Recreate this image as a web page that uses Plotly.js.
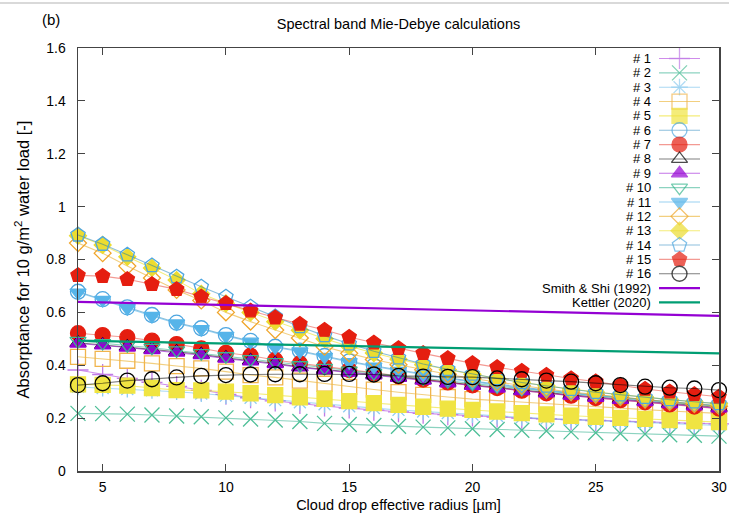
<!DOCTYPE html>
<html>
<head>
<meta charset="utf-8">
<script src="https://cdn.plot.ly/plotly-3.0.1.min.js"></script>
<style>html,body{margin:0;padding:0;background:#fff}#chart{width:729px;height:517px}</style>
</head>
<body>
<div id="chart"></div>
<script>
// Cloud drop effective radius [µm]
const radius = [4,5,6,7,8,9,10,11,12,13,14,15,16,17,18,19,20,21,22,23,24,25,26,27,28,29,30];

// Absorptance for each spectral band (# 1 ... # 16)
const band1  = [0.382,0.365,0.350,0.335,0.320,0.305,0.290,0.277,0.265,0.255,0.246,0.238,0.230,0.224,0.218,0.213,0.208,0.204,0.200,0.197,0.194,0.191,0.188,0.185,0.182,0.180,0.178];
const band2  = [0.218,0.217,0.215,0.212,0.208,0.205,0.201,0.197,0.193,0.187,0.180,0.176,0.172,0.169,0.166,0.163,0.160,0.157,0.154,0.151,0.148,0.145,0.142,0.140,0.137,0.135,0.132];
const band3  = [0.318,0.314,0.310,0.305,0.300,0.293,0.285,0.277,0.268,0.260,0.252,0.245,0.238,0.231,0.225,0.219,0.213,0.208,0.203,0.198,0.194,0.190,0.186,0.182,0.178,0.175,0.172];
const band4  = [0.432,0.424,0.417,0.407,0.397,0.388,0.376,0.363,0.354,0.342,0.330,0.318,0.308,0.298,0.288,0.280,0.272,0.266,0.260,0.254,0.248,0.242,0.237,0.232,0.227,0.222,0.218];
const band5  = [0.328,0.326,0.323,0.314,0.306,0.305,0.300,0.294,0.287,0.279,0.273,0.264,0.257,0.250,0.243,0.236,0.231,0.225,0.219,0.214,0.209,0.205,0.201,0.197,0.193,0.189,0.185];
const band6  = [0.678,0.650,0.619,0.590,0.561,0.540,0.514,0.492,0.470,0.455,0.435,0.415,0.398,0.382,0.367,0.352,0.340,0.328,0.317,0.306,0.296,0.287,0.278,0.270,0.262,0.255,0.248];
const band7  = [0.521,0.514,0.506,0.493,0.480,0.464,0.447,0.436,0.420,0.407,0.395,0.382,0.370,0.358,0.346,0.335,0.324,0.314,0.304,0.294,0.285,0.276,0.268,0.260,0.252,0.244,0.236];
const band8  = [0.485,0.477,0.470,0.460,0.451,0.441,0.428,0.418,0.407,0.394,0.385,0.375,0.365,0.355,0.345,0.335,0.325,0.315,0.305,0.297,0.288,0.280,0.272,0.264,0.256,0.248,0.240];
const band9  = [0.482,0.475,0.467,0.457,0.448,0.438,0.425,0.415,0.404,0.392,0.382,0.372,0.362,0.352,0.342,0.332,0.322,0.312,0.302,0.294,0.285,0.277,0.269,0.261,0.253,0.245,0.237];
const band10 = [0.492,0.484,0.476,0.466,0.456,0.446,0.434,0.423,0.412,0.400,0.390,0.380,0.370,0.360,0.350,0.340,0.330,0.320,0.310,0.302,0.293,0.285,0.277,0.269,0.261,0.253,0.245];
const band11 = [0.675,0.647,0.616,0.587,0.558,0.537,0.511,0.489,0.467,0.452,0.432,0.412,0.395,0.379,0.364,0.349,0.337,0.325,0.314,0.303,0.293,0.284,0.275,0.267,0.259,0.252,0.245];
const band12 = [0.862,0.824,0.775,0.730,0.685,0.645,0.600,0.565,0.533,0.503,0.470,0.445,0.422,0.402,0.383,0.366,0.350,0.336,0.322,0.310,0.299,0.289,0.279,0.270,0.261,0.253,0.245];
const band13 = [0.890,0.855,0.810,0.768,0.722,0.670,0.634,0.600,0.565,0.532,0.500,0.472,0.446,0.423,0.402,0.383,0.366,0.350,0.336,0.322,0.310,0.299,0.289,0.279,0.270,0.262,0.254];
const band14 = [0.893,0.858,0.818,0.777,0.735,0.697,0.659,0.621,0.584,0.546,0.512,0.481,0.453,0.428,0.405,0.385,0.367,0.350,0.335,0.321,0.309,0.298,0.288,0.279,0.270,0.262,0.255];
const band15 = [0.740,0.737,0.725,0.706,0.687,0.659,0.634,0.606,0.580,0.556,0.533,0.507,0.485,0.464,0.445,0.426,0.407,0.392,0.378,0.363,0.350,0.338,0.325,0.310,0.300,0.290,0.281];
const band16 = [0.325,0.332,0.342,0.347,0.354,0.360,0.363,0.365,0.366,0.366,0.367,0.367,0.365,0.360,0.357,0.356,0.355,0.350,0.347,0.342,0.338,0.332,0.325,0.319,0.315,0.312,0.306];

// Reference parameterisations (straight lines)
const refRadius = [4, 30];
const smithShi  = [0.640, 0.587];
const kettler   = [0.493, 0.445];

const bandNames = ['# 1','# 2','# 3','# 4','# 5','# 6','# 7','# 8','# 9','# 10','# 11','# 12','# 13','# 14','# 15','# 16'];
const refNames  = ['Smith & Shi (1992)', 'Kettler (2020)'];

const bands = [band1,band2,band3,band4,band5,band6,band7,band8,band9,band10,band11,band12,band13,band14,band15,band16];

// styles
const markerColor = ['#c07be6','#4fbf98','#8fcdf0','#f0b44c','#f0e442','#4ea6e0','#e51e10','#000000','#9400d3','#3bb68f','#56b4e9','#f0a52a','#ecdc30','#4ea6e0','#e51e10','#000000'];
const lineColor   = ['rgba(148,0,211,0.45)','rgba(0,158,115,0.45)','rgba(86,180,233,0.5)','rgba(230,159,0,0.5)','rgba(240,228,66,0.7)','rgba(0,114,178,0.45)','rgba(229,30,16,0.45)','rgba(0,0,0,0.5)','rgba(148,0,211,0.55)','rgba(0,158,115,0.45)','rgba(86,180,233,0.6)','rgba(230,159,0,0.5)','rgba(240,228,66,0.7)','rgba(0,114,178,0.45)','rgba(229,30,16,0.45)','rgba(0,0,0,0.5)'];
const symbols = ['cross-thin','x-thin','asterisk','square-open','square','circle-open','circle','triangle-up-open','triangle-up','triangle-down-open','triangle-down','diamond-open','diamond','pentagon-open','pentagon','circle-open'];
const sizes   = [15,15,14,15,15,15,15,14,14,14,14,13,13,15,15,15];
const refColor = ['#9400d3','#009e73'];

const traces = [];
bands.forEach((vals, i) => {
  traces.push({
    x: radius, y: vals, name: bandNames[i], type: 'scatter', mode: 'lines+markers',
    cliponaxis: false, showlegend: false,
    line: {color: lineColor[i], width: 1.1},
    marker: {symbol: symbols[i], size: sizes[i], color: markerColor[i],
             line: {color: markerColor[i], width: 1.3}}
  });
});
[smithShi, kettler].forEach((vals, i) => {
  traces.push({x: refRadius, y: vals, name: refNames[i], type: 'scatter', mode: 'lines',
    showlegend: false, line: {color: refColor[i], width: 2.2}});
});

// key (gnuplot style: text right-aligned, sample to the right) in pixel space on overlay axes
const PLOT_L = 78, PLOT_R = 719, PLOT_T = 48, PLOT_B = 471;
const KEY_TOP = 58.5, KEY_STEP = 14.35, KEY_TEXT_X = 652, KEY_L0 = 659, KEY_L1 = 700;
const annotations = [];
const keyNames = bandNames.concat(refNames);
keyNames.forEach((nm, i) => {
  const yy = KEY_TOP + i * KEY_STEP;
  const isBand = i < bands.length;
  annotations.push({xref: 'x2', yref: 'y2', x: KEY_TEXT_X, y: yy, text: nm, showarrow: false,
    xanchor: 'right', yanchor: 'middle', borderpad: 0,
    font: {family: 'Liberation Sans, Arial, sans-serif', size: 13, color: '#000'}});
  const xm = (KEY_L0 + KEY_L1) / 2;
  const tr = {
    x: [KEY_L0, xm, KEY_L1], y: [yy, yy, yy], xaxis: 'x2', yaxis: 'y2', type: 'scatter',
    mode: isBand ? 'lines+markers' : 'lines', showlegend: false, hoverinfo: 'skip', cliponaxis: false,
    line: {color: isBand ? lineColor[i] : refColor[i - bands.length], width: isBand ? 1.1 : 2.2}
  };
  if (isBand) {
    tr.marker = {symbol: symbols[i], size: [0, sizes[i], 0], color: markerColor[i],
                 line: {color: markerColor[i], width: 1.3}};
  }
  traces.push(tr);
});

annotations.push({xref: 'paper', yref: 'paper', x: (51 - PLOT_L) / (PLOT_R - PLOT_L), y: 1 + (PLOT_T - 20) / (PLOT_B - PLOT_T),
  text: '(b)', showarrow: false, xanchor: 'center', yanchor: 'middle',
  font: {family: 'Liberation Sans, Arial, sans-serif', size: 15, color: '#000'}});

const axisFont = {family: 'Liberation Sans, Arial, sans-serif', size: 14, color: '#000'};
const layout = {
  width: 729, height: 517,
  margin: {l: PLOT_L, r: 729 - PLOT_R, t: PLOT_T, b: 517 - PLOT_B, pad: 0},
  paper_bgcolor: '#fff', plot_bgcolor: '#fff',
  showlegend: false,
  title: {text: 'Spectral band Mie-Debye calculations', x: 0.5, xref: 'paper', xanchor: 'center',
          y: 1 - 24 / 517, yanchor: 'middle', font: {family: 'Liberation Sans, Arial, sans-serif', size: 14.5, color: '#000'}},
  xaxis: {range: [4, 30], tickvals: [5,10,15,20,25,30], ticks: 'inside', ticklen: 7, tickwidth: 1, tickcolor: '#444',
          showline: true, linecolor: '#444', linewidth: 1.5, mirror: 'ticks', showgrid: false, zeroline: false,
          tickfont: axisFont, ticklabelstandoff: 3,
          title: {text: 'Cloud drop effective radius [µm]', font: {family: 'Liberation Sans, Arial, sans-serif', size: 14.5, color: '#000'}, standoff: 5}},
  yaxis: {range: [0, 1.6], dtick: 0.2, tick0: 0, ticks: 'inside', ticklen: 7, tickwidth: 1, tickcolor: '#444',
          showline: true, linecolor: '#444', linewidth: 1.5, mirror: 'ticks', showgrid: false, zeroline: false,
          tickfont: axisFont, ticklabelstandoff: 8,
          title: {text: 'Absorptance for 10 g/m<sup>2</sup> water load [-]', font: {family: 'Liberation Sans, Arial, sans-serif', size: 16.5, color: '#000'}, standoff: 12}},
  xaxis2: {overlaying: 'x', range: [PLOT_L, PLOT_R], visible: false, fixedrange: true},
  yaxis2: {overlaying: 'y', range: [PLOT_B, PLOT_T], visible: false, fixedrange: true},
  annotations: annotations,
  shapes: [{type: 'line', xref: 'paper', yref: 'paper', x0: -PLOT_L / (PLOT_R - PLOT_L), x1: (729 - PLOT_L) / (PLOT_R - PLOT_L),
            y0: 1 + (PLOT_T - 3) / (PLOT_B - PLOT_T), y1: 1 + (PLOT_T - 3) / (PLOT_B - PLOT_T), line: {color: '#cccccc', width: 1.5}}]
};

Plotly.newPlot('chart', traces, layout, {displayModeBar: false, staticPlot: true});
</script>
</body>
</html>
